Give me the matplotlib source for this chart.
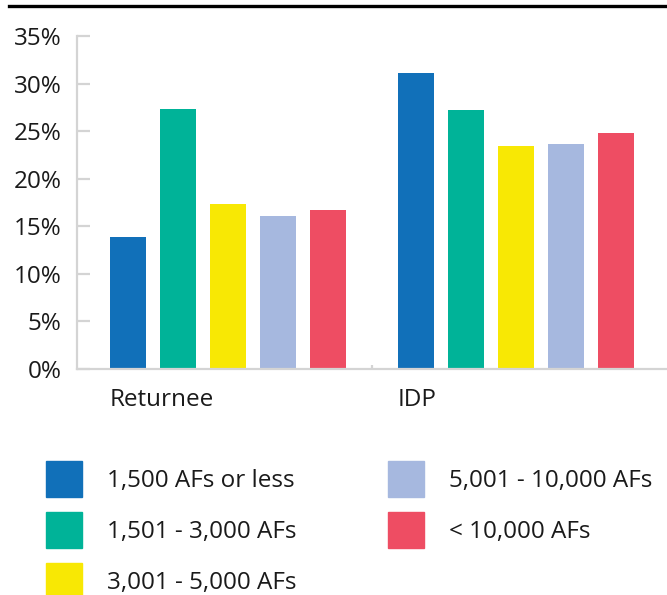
import matplotlib.pyplot as plt
import numpy as np
from matplotlib.patches import Patch
from matplotlib.lines import Line2D

plt.rcParams['font.family'] = ['Open Sans', 'DejaVu Sans']

# data
groups = ['Returnee', 'IDP']
series = ['1,500 AFs or less', '1,501 - 3,000 AFs', '3,001 - 5,000 AFs',
          '5,001 - 10,000 AFs', '< 10,000 AFs']
values = [
    [13.9, 31.1],   # 1,500 AFs or less
    [27.3, 27.2],   # 1,501 - 3,000
    [17.3, 23.4],   # 3,001 - 5,000
    [16.1, 23.6],   # 5,001 - 10,000
    [16.7, 24.8],   # < 10,000
]
colors = ['#1170B9', '#00B398', '#F8E804', '#A6B8DF', '#EE4D63']
yticks = [0, 5, 10, 15, 20, 25, 30, 35]

grey = '#d4d4d4'
txt = '#1a1a1a'
fs = 17.5

fig = plt.figure(figsize=(6.67, 5.95), dpi=100)
ax = fig.add_axes([77/667, 1 - 369/595, 590/667, (369 - 36)/595])

x = np.arange(len(groups))
step = 50/288
width = 36/288
for i, (vals, c) in enumerate(zip(values, colors)):
    ax.bar(x + (i - 2)*step, vals, width, color=c, label=series[i], zorder=2)

ax.set_xlim(-0.524, 1.524)
ax.set_ylim(0, 35)

for s in ['top', 'right']:
    ax.spines[s].set_visible(False)
for s in ['left', 'bottom']:
    ax.spines[s].set_color(grey)
    ax.spines[s].set_linewidth(1.6)

ax.set_yticks(yticks, [f'{v}%' for v in yticks])
ax.tick_params(axis='y', direction='in', length=9.5, width=1.6, color=grey,
               pad=11, labelsize=fs, labelcolor=txt)

# category labels sit left-aligned at the first bar of each group
ax.set_xticks(x - 2*step - width/2, groups)
for lab in ax.get_xticklabels():
    lab.set_ha('left')
ax.tick_params(axis='x', which='major', length=0, pad=14, labelsize=fs,
               labelcolor=txt)
ax.set_xticks([0.5], minor=True)
ax.tick_params(axis='x', which='minor', direction='in', length=3, width=1.6,
               color=grey)

# black rule at top
fig.add_artist(Line2D([9/667, 1], [1 - 6/595, 1 - 6/595], color='black',
                      lw=2.4, transform=fig.transFigure))

handles = [Patch(color=c) for c in colors]
em = fs*100/72
hh = (36/em - 0.245)/0.65  # legend squares 36px tall
common = dict(frameon=False, fontsize=fs, handlelength=36/em,
              handleheight=hh, handletextpad=25/em, labelspacing=15/em,
              borderpad=0, borderaxespad=0, labelcolor=txt, loc='upper left')
leg1 = fig.legend(handles[:3], series[:3],
                  bbox_to_anchor=(46/667, 1 - 461/595), **common)
leg2 = fig.legend(handles[3:], series[3:],
                  bbox_to_anchor=(388/667, 1 - 461/595), **common)

fig.savefig('out.png', dpi=100)
